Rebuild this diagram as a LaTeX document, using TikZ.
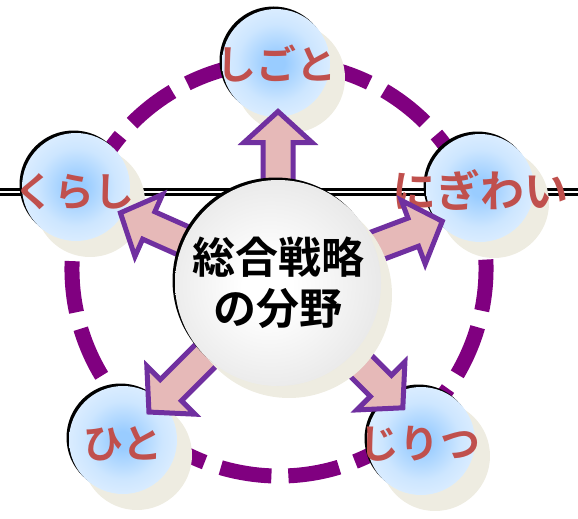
\documentclass[tikz,border=0pt]{standalone}
\usepackage{fontspec}
\newfontfamily\jp{Noto Sans CJK JP Bold}
\newfontfamily\jpbold{Noto Sans CJK JP Bold}
\definecolor{dashpurple}{HTML}{800080}
\definecolor{arrfill}{HTML}{E6B9B8}
\definecolor{arrline}{HTML}{7030A0}
\definecolor{txtred}{HTML}{C0504D}
\definecolor{shadowc}{HTML}{EEECE1}
\definecolor{sphc}{HTML}{99CCFF}
\definecolor{sphm}{HTML}{CDE6FF}
\definecolor{sphe}{HTML}{E6F2FF}
\definecolor{grc}{HTML}{FFFFFF}
\definecolor{gre}{HTML}{D0D0D0}
\pgfdeclareradialshading{bluesph}{\pgfpoint{0bp}{0bp}}{color(0bp)=(sphc); color(4bp)=(sphc); color(18bp)=(sphm); color(32bp)=(sphe); color(50bp)=(sphe)}
\pgfdeclareradialshading{graysph}{\pgfpoint{-3bp}{-1bp}}{color(0bp)=(grc); color(6bp)=(grc); color(50bp)=(gre)}
\tikzset{
  sphere/.style={circle, inner sep=0pt, minimum size=108pt, shading=bluesph},
  sphshadow/.style={fill=shadowc},
  sphedge/.style={fill=black},
  lbl/.style={text=txtred, font=\jp\fontsize{40}{40}\selectfont, inner sep=0pt},
  arrowst/.style={fill=arrfill, draw=arrline, line width=5pt, miter limit=10},
  ringst/.style={draw=dashpurple, line width=15pt, dash pattern=on 51.45pt off 17pt}
}
\newcommand\blockarr[2]{%
  \begin{scope}[shift={(c.center)}, rotate=#1]
    \draw[arrowst] (60,-15) -- ({#2-31},-15) -- ({#2-31},-34) -- (#2,0)
      -- ({#2-31},34) -- ({#2-31},15) -- (60,15) -- cycle;
  \end{scope}}
\begin{document}
\begin{tikzpicture}[x=1pt,y=-1pt]
\useasboundingbox (0,0) rectangle (578,519);
\coordinate (c) at (278,283);
\coordinate (ringc) at (279,269);
% horizontal double rule
\coordinate (hl) at (0,191.5);
\coordinate (hr) at (578,191.5);
\draw[line width=8pt] (hl) -- (hr);
\draw[white, line width=2pt] (hl) -- (hr);
% dashed ring
\draw[ringst] ([shift={(149:207)}]ringc) arc[start angle=149, end angle=509, radius=207];
% shadows of the small spheres
\foreach \p in {(276,63),(76,187),(480,188),(123,440),(421,441)}
  \fill[sphshadow] \p ++(14,15) circle (55);
% dark rims
\foreach \p in {(276,63),(76,187),(480,188),(123,440),(421,441)}
  \fill[sphedge] \p ++(-2.5,-2.5) circle (54);
% spheres
\node[sphere] (shigoto) at (276,63) {};
\node[sphere] (kurashi) at (76,187) {};
\node[sphere] (nigiwai) at (480,188) {};
\node[sphere] (hito) at (123,440) {};
\node[sphere] (jiritsu) at (421,441) {};
% labels
\node[lbl] (t1) at (276,64) {しごと};
\node[lbl] (t2) at (74,192) {くらし};
\node[lbl, font=\jp\fontsize{44}{44}\selectfont] (t3) at (480,190) {にぎわい};
\node[lbl] (t4) at (123,444) {ひと};
\node[lbl] (t5) at (420,444) {じりつ};
% block arrows
\blockarr{90}{171.5}
\blockarr{156}{172.5}
\blockarr{20.6}{175.5}
\blockarr{225}{182.5}
\blockarr{-45}{176.5}
% central sphere
\fill[sphshadow] (c) ++(11,12) circle (103);
\fill[sphedge] (c) ++(-2.5,-2.5) circle (103);
\node[circle, inner sep=0pt, minimum size=206pt, shading=graysph,
      font=\jpbold\fontsize{43}{51}\selectfont, align=center] (centre) at (c) {総合戦略\\の分野};
\end{tikzpicture}
\end{document}
